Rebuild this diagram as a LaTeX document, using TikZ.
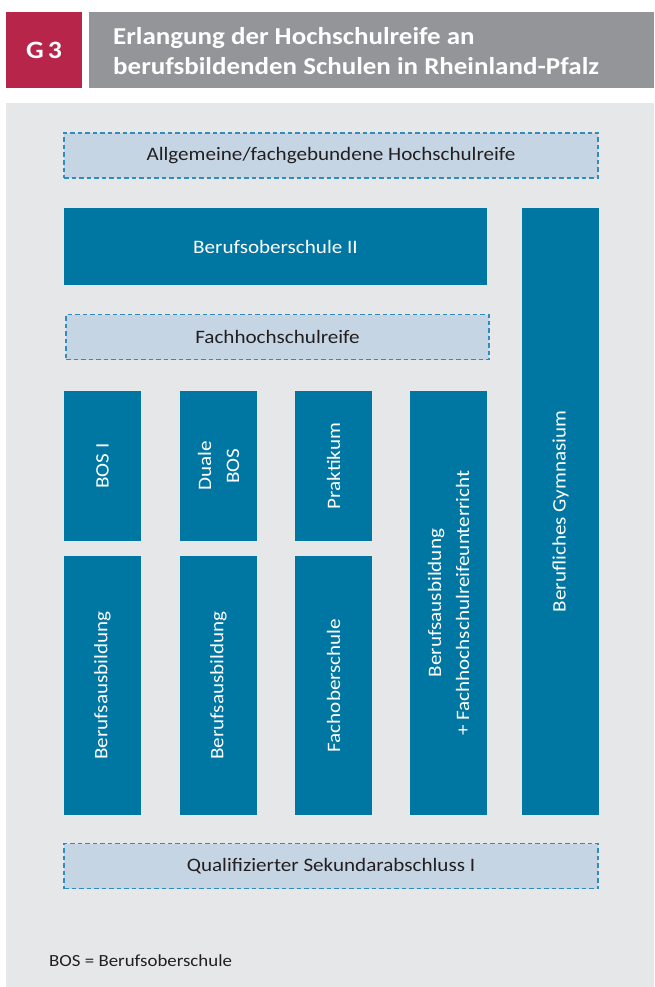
\documentclass[tikz,border=0pt]{standalone}
\usepackage{fontspec}
\setmainfont{Carlito}[FakeStretch=1.11]
\definecolor{headred}{HTML}{B7254A}
\definecolor{headgray}{HTML}{939598}
\definecolor{panelgray}{HTML}{E6E7E9}
\definecolor{blockblue}{HTML}{0076A3}
\definecolor{levelblue}{HTML}{C6D5E3}
\definecolor{dashblue}{HTML}{2F8CBD}
\definecolor{textdark}{HTML}{231F20}
\begin{document}
\begin{tikzpicture}[x=1pt, y=-1pt,
  blockbox/.style={fill=blockblue, text=white, inner sep=0pt, align=center, font=\fontsize{19}{28}\selectfont},
  levelbox/.style={fill=levelblue, draw=dashblue, line width=1.2pt, dash pattern=on 4.5pt off 3pt, text=textdark, inner sep=0pt, font=\fontsize{19}{28}\selectfont},
  vertical/.style={blockbox, rotate=90, minimum height=77pt}]
  \useasboundingbox (0,0) rectangle (654,987);
  % header
  \node (g3) [fill=headred, text=white, minimum width=76pt, minimum height=76pt, inner sep=0pt, font=\bfseries\fontsize{25}{30}\selectfont] at (44,50) {G\,3};
  \node (headbar) [fill=headgray, minimum width=565pt, minimum height=76pt, inner sep=0pt] at (371.5,50) {};
  \node (title) [anchor=west, text=white, align=left, inner sep=0pt, font=\bfseries\fontsize{24.3}{30}\selectfont] at (113,51) {Erlangung der Hochschulreife an\\berufsbildenden Schulen in Rheinland-Pfalz};
  % panel
  \fill[panelgray] (6,103) rectangle (654,987);

  \node (hsr) [levelbox, minimum width=534pt, minimum height=45pt] at (331,155.5) {Allgemeine/fachgebundene Hochschulreife};
  \node (bos2) [blockbox, minimum width=423pt, minimum height=77pt] at (275.5,246.5) {Berufsoberschule II};
  \node (gym) [vertical, minimum width=607pt] at (560.5,511.5) {Berufliches Gymnasium};
  \node (fhr) [levelbox, minimum width=423pt, minimum height=45pt] at (277.5,337) {Fachhochschulreife};

  \node (bos1) [vertical, minimum width=150pt] at (102.5,466) {BOS I};
  \node (duale) [vertical, minimum width=150pt] at (218.5,466) {Duale\\BOS};
  \node (prakt) [vertical, minimum width=150pt] at (333.5,466) {Praktikum};
  \node (bafhu) [vertical, minimum width=424pt] at (448.5,603) {Berufsausbildung\\+ Fachhochschulreifeunterricht};

  \node (ba1) [vertical, minimum width=259pt] at (102.5,685.5) {Berufsausbildung};
  \node (ba2) [vertical, minimum width=259pt] at (218.5,685.5) {Berufsausbildung};
  \node (fos) [vertical, minimum width=259pt] at (333.5,685.5) {Fachoberschule};

  \node (sek) [levelbox, minimum width=534pt, minimum height=45pt] at (331,866) {Qualifizierter Sekundarabschluss I};

  \node (legend) [anchor=base west, inner sep=0pt, text=textdark, font=\fontsize{17}{20}\selectfont] at (49,966) {BOS = Berufsoberschule};
\end{tikzpicture}
\end{document}
